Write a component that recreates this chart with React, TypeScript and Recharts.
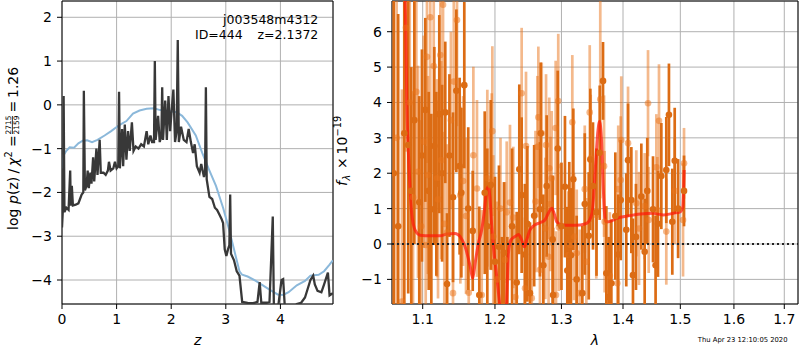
import React from 'react';
import {
  ComposedChart,
  Line,
  Scatter,
  ErrorBar,
  XAxis,
  YAxis,
  CartesianGrid,
  ReferenceLine,
  ReferenceArea,
} from 'recharts';

const FONT = '"DejaVu Sans", "Liberation Sans", sans-serif';

// ---- left panel: log p(z) ----
const zTicks = [0, 1, 2, 3, 4];
const pzTicks = [-4, -3, -2, -1, 0, 1, 2];

const zGrid = [
  0.0, 0.02, 0.03, 0.045, 0.08, 0.12, 0.15, 0.16, 0.18, 0.2,
  0.25, 0.3, 0.33, 0.36, 0.39, 0.4, 0.42, 0.45, 0.47, 0.49,
  0.52, 0.54, 0.57, 0.59, 0.63, 0.65, 0.69, 0.71, 0.76, 0.8,
  0.84, 0.86, 0.89, 0.94, 0.97, 1.0, 1.03, 1.045, 1.06, 1.1,
  1.12, 1.15, 1.18, 1.21, 1.24, 1.28, 1.31, 1.35, 1.4, 1.45,
  1.5, 1.55, 1.58, 1.62, 1.65, 1.685, 1.7, 1.715, 1.76, 1.79,
  1.82, 1.835, 1.85, 1.89, 1.92, 1.95, 1.98, 2.01, 2.04, 2.07,
  2.1, 2.12, 2.14, 2.18, 2.23, 2.28, 2.32, 2.36, 2.4, 2.43,
  2.47, 2.52, 2.55, 2.6, 2.62, 2.635, 2.65, 2.7, 2.75, 2.8,
  2.84, 2.88, 2.92, 2.95, 2.98, 3.01, 3.04, 3.065, 3.08, 3.095,
  3.15, 3.2, 3.25, 3.3, 3.4, 3.5, 3.58, 3.62, 3.65, 3.75,
  3.8, 3.83, 3.86, 3.88, 3.95, 4.02, 4.05, 4.08, 4.2, 4.3,
  4.38, 4.45, 4.5, 4.55, 4.6, 4.63, 4.68, 4.75, 4.8, 4.87,
  4.9, 4.96,
];
const logPz = [
  -2.8, -2.3, 0.2, -2.45, -2.35, -2.4, -1.5, -2.3, -1.85, -2.3,
  -2.28, -2.25, -2.15, -2.05, -2.0, 0.32, -1.95, -1.85, -1.5, -1.9,
  -1.55, -1.8, -1.2, -1.75, -1.0, -1.6, -0.8, -1.55, -1.55, -1.6,
  -1.5, -1.3, -1.5, -1.45, -1.3, -1.45, -1.4, 0.3, -1.45, -0.55,
  -1.4, -0.45, -1.25, -0.6, -1.05, -0.4, -1.05, -0.95, -1.0, -0.9,
  -0.95, -0.6, -0.9, -0.7, -0.85, -0.85, 1.0, -0.8, -0.25, -0.85,
  -0.7, 0.4, -0.8, 0.1, -0.8, 0.2, -0.6, -0.1, 0.35, -0.85,
  -0.6, 1.48, -0.85, -0.5, -0.8, -0.85, -0.55, -0.85, -1.1, -0.9,
  -1.4, -1.55, -1.35, -1.65, -1.5, 0.4, -1.7, -2.1, -2.15, -2.35,
  -2.4, -2.5, -2.6, -2.7, -3.3, -3.45, -3.3, -3.2, -2.05, -3.4,
  -3.55, -3.8, -3.9, -4.5, -4.52, -4.53, -4.5, -4.05, -4.52, -4.52,
  -4.5, -3.55, -2.55, -4.6, -4.7, -4.0, -3.98, -4.6, -4.7, -4.55,
  -4.52, -4.4, -4.2, -4.0, -3.9, -4.1, -4.25, -4.28, -4.1, -3.83,
  -4.35, -4.3,
];

const zSmooth = [
  0.0, 0.03, 0.08, 0.14, 0.22, 0.3, 0.38, 0.46, 0.55, 0.65,
  0.78, 0.9, 1.05, 1.18, 1.3, 1.42, 1.55, 1.68, 1.8, 1.95,
  2.1, 2.2, 2.3, 2.45, 2.57, 2.7, 2.82, 2.95, 3.05, 3.15,
  3.25, 3.3, 3.4, 3.55, 3.65, 3.8, 3.95, 4.05, 4.15, 4.3,
  4.45, 4.55, 4.7, 4.8, 4.9, 4.96,
];
const logPzSmooth = [
  -1.45, -1.15, -1.05, -0.97, -0.98, -0.88, -0.82, -0.81, -0.85, -0.8,
  -0.7, -0.6, -0.46, -0.37, -0.2, -0.13, -0.09, -0.08, -0.12, -0.14,
  -0.17, -0.25, -0.4, -0.7, -1.1, -1.5, -1.85, -2.35, -2.8, -3.3,
  -3.8, -3.88, -3.92, -4.02, -4.1, -4.22, -4.33, -4.34, -4.28, -4.12,
  -4.02, -3.9, -3.88, -3.8, -3.65, -3.55,
];

// ---- right panel: spectrum ----
const lamTicks = [1.1, 1.2, 1.3, 1.4, 1.5, 1.6, 1.7];
const fluxTicks = [-1, 0, 1, 2, 3, 4, 5, 6];

const darkLam = [
  1.0623, 1.068, 1.0759, 1.081, 1.085, 1.089, 1.0955, 1.099, 1.1035, 1.108,
  1.1115, 1.1155, 1.1182, 1.1222, 1.126, 1.1303, 1.1327, 1.136, 1.1409, 1.1455,
  1.15, 1.1524, 1.1565, 1.162, 1.1683, 1.1776, 1.1853, 1.189, 1.1939, 1.2,
  1.2058, 1.21, 1.2131, 1.218, 1.225, 1.2318, 1.2357, 1.2392, 1.244, 1.2477,
  1.2517, 1.258, 1.2668, 1.2679, 1.272, 1.2771, 1.2863, 1.287, 1.2942, 1.3,
  1.3055, 1.3092, 1.3123, 1.315, 1.3187, 1.324, 1.3331, 1.337, 1.3434, 1.346,
  1.3503, 1.356, 1.3613, 1.3667, 1.3722, 1.376, 1.3805, 1.3871, 1.392, 1.3961,
  1.4055, 1.4085, 1.4141, 1.4169, 1.422, 1.4312, 1.437, 1.4415, 1.4515, 1.456,
  1.4602, 1.4661, 1.4749, 1.4796, 1.4856, 1.4899, 1.496, 1.5067,
];
const darkFlux = [
  2.0, 0.5, 3.13, 2.8, 1.5, 3.5, 1.18, 2.5, 3.79, 1.5,
  0.98, 2.77, 1.7, 3.67, 2.0, 3.72, -1.13, 2.5, 1.32, 4.33,
  2.2, 1.45, 4.49, 1.0, 0.37, -1.44, 1.45, 0.5, 1.67, -0.5,
  -0.08, -2.0, -0.25, -1.8, 0.5, -1.09, 2.11, 1.38, -0.3, 0.57,
  -1.39, 0.8, 0.98, 3.13, -0.6, 1.64, 0.13, -1.44, 2.7, 0.5,
  1.62, -0.75, 0.32, -0.32, 1.83, -1.0, -1.39, 1.13, 0.23, 2.39,
  1.64, 0.9, 2.58, 4.61, -0.83, -1.5, -1.11, 0.79, -0.3, 1.24,
  0.4, 2.37, 1.24, -0.88, 0.2, 1.34, -0.22, 1.5, 0.98, -0.6,
  0.57, 1.92, 2.09, 3.65, 0.63, 2.35, 1.0, 1.5,
];
const darkErr = [
  7.0, 6.0, 5.5, 4.2, 3.5, 3.5, 3.0, 3.0, 2.6, 2.8,
  2.7, 2.8, 2.6, 2.8, 2.5, 2.0, 2.0, 2.3, 2.4, 2.3,
  2.5, 2.4, 2.35, 2.3, 1.7, 2.5, 2.3, 2.2, 2.4, 2.4,
  2.3, 2.2, 2.0, 2.0, 2.2, 2.0, 2.4, 2.2, 2.0, 2.2,
  2.0, 2.0, 1.9, 2.0, 2.0, 2.0, 1.8, 1.9, 2.2, 1.8,
  2.0, 1.8, 2.0, 1.9, 2.0, 1.8, 1.9, 2.0, 1.8, 2.0,
  1.8, 1.8, 1.9, 1.1, 1.9, 1.7, 1.8, 1.8, 1.7, 1.7,
  1.6, 1.6, 1.5, 1.6, 1.5, 1.5, 1.5, 1.5, 1.5, 1.4,
  1.5, 1.5, 1.5, 1.45, 1.5, 1.5, 1.4, 1.0,
];

const lightLam = [
  1.066, 1.0729, 1.0781, 1.083, 1.0873, 1.0916, 1.0938, 1.098, 1.1013, 1.104,
  1.1057, 1.107, 1.1101, 1.1147, 1.1192, 1.1205, 1.1236, 1.1248, 1.1273, 1.129,
  1.1327, 1.138, 1.1409, 1.142, 1.1464, 1.151, 1.1548, 1.1589, 1.1627, 1.1692,
  1.1743, 1.181, 1.189, 1.1953, 1.1962, 1.1976, 1.203, 1.208, 1.2146, 1.2171,
  1.2219, 1.2268, 1.23, 1.2392, 1.2442, 1.2457, 1.2543, 1.26, 1.2628, 1.2643,
  1.2668, 1.2695, 1.275, 1.2761, 1.28, 1.2811, 1.283, 1.2848, 1.291, 1.2915,
  1.295, 1.296, 1.3108, 1.3135, 1.3171, 1.3198, 1.3241, 1.3289, 1.337, 1.3395,
  1.345, 1.3466, 1.3557, 1.3622, 1.3684, 1.3694, 1.378, 1.3904, 1.392, 1.3961,
  1.3971, 1.4085, 1.4226, 1.4272, 1.437, 1.4428, 1.444, 1.4573, 1.4591, 1.462,
  1.4749, 1.49, 1.5049, 1.5067,
];
const lightFlux = [
  3.0, -1.63, 6.11, 4.0, 1.32, 4.3, 2.04, 0.5, 2.89, -0.03,
  5.29, 1.95, 6.41, 5.03, 1.86, 1.26, 5.34, 2.37, 6.76, 0.57,
  0.32, 3.5, -1.39, 4.59, 6.33, 1.38, 1.78, 0.79, -1.38, 2.51,
  1.57, -1.44, 1.86, 1.76, 3.19, 0.21, -1.0, 1.0, -0.45, 0.9,
  1.17, 0.75, -1.5, 4.26, -1.25, 2.77, -1.53, 1.2, 2.75, 3.58,
  -0.73, 3.13, 0.44, 2.8, -0.36, 2.14, 1.13, 1.86, 3.28, -1.44,
  4.04, 0.47, -0.31, -0.03, 3.44, 0.21, -0.26, -1.39, 1.55, -0.5,
  3.72, 2.42, 0.82, 4.09, 2.2, 0.63, -0.9, -1.11, 1.55, 1.81,
  2.94, 2.85, 1.15, 0.44, 1.07, 3.98, 0.68, 2.17, 0.96, 3.48,
  0.35, 1.5, 0.68, 2.28,
];
const lightErr = [
  6.0, 6.0, 3.5, 4.0, 3.0, 3.3, 3.0, 3.0, 3.0, 2.8,
  3.0, 2.8, 3.3, 3.0, 2.8, 2.8, 3.0, 2.8, 3.0, 2.6,
  2.5, 2.5, 2.6, 2.5, 3.0, 2.5, 2.4, 2.2, 2.3, 2.5,
  2.5, 2.4, 2.5, 2.5, 2.4, 2.3, 2.2, 2.0, 2.2, 2.0,
  2.2, 2.0, 2.0, 1.85, 2.0, 2.1, 2.0, 2.0, 2.0, 2.0,
  2.0, 2.0, 2.0, 2.0, 2.0, 2.0, 1.9, 1.9, 1.9, 1.8,
  1.9, 1.8, 1.8, 1.8, 1.9, 1.8, 1.8, 1.8, 1.8, 1.8,
  1.9, 1.8, 1.8, 2.8, 2.0, 2.0, 1.8, 1.8, 1.8, 1.8,
  1.8, 1.6, 1.5, 1.6, 1.5, 1.5, 1.5, 1.5, 1.5, 1.6,
  1.5, 1.5, 1.6, 1.0,
];

const modelLam = [
  1.07, 1.074, 1.0778, 1.0791, 1.0811, 1.0833, 1.0855, 1.0899, 1.0965, 1.1098,
  1.1232, 1.1324, 1.1437, 1.1507, 1.1577, 1.1648, 1.1683, 1.1716, 1.1763, 1.181,
  1.1844, 1.1882, 1.1906, 1.193, 1.1954, 1.1987, 1.2026, 1.2073, 1.2147, 1.2171,
  1.2196, 1.2231, 1.2294, 1.2345, 1.2393, 1.2432, 1.2467, 1.2517, 1.2593, 1.2668,
  1.2744, 1.2796, 1.2849, 1.2885, 1.2926, 1.3006, 1.3137, 1.3298, 1.3406, 1.3488,
  1.3543, 1.358, 1.361, 1.3642, 1.367, 1.3708, 1.3763, 1.3903, 1.4072, 1.4298,
  1.4527, 1.47, 1.4877, 1.4997, 1.5045, 1.5069,
];
const modelFlux = [
  12, 9.0, 6.05, 4.07, 2.66, 1.62, 0.87, 0.4, 0.25, 0.23,
  0.23, 0.28, 0.3, 0.21, -0.08, -0.64, -0.97, -0.55, 0.02, 0.4,
  0.87, 1.53, 1.62, 1.24, 0.49, -0.26, -0.92, -1.77, -2.5, -1.58,
  -0.26, 0.11, 0.21, 0.27, 0.11, -0.08, 0.11, 0.4, 0.54, 0.6,
  0.68, 0.87, 1.01, 0.87, 0.63, 0.54, 0.53, 0.54, 0.59, 0.87,
  2.18, 3.13, 3.46, 2.94, 1.62, 0.63, 0.63, 0.73, 0.79, 0.85,
  0.87, 0.82, 0.87, 0.91, 1.05, 2.09,
];

const Z_DOMAIN: [number, number] = [0, 4.963];
const PZ_DOMAIN: [number, number] = [-4.548, 2.372];
const LAM_DOMAIN: [number, number] = [1.0601, 1.7283];
const FLUX_DOMAIN: [number, number] = [-1.696, 6.868];

const pzData = zGrid.map((x, i) => ({ x, y: logPz[i] }));
const pzSmoothData = zSmooth.map((x, i) => ({ x, y: logPzSmooth[i] }));

// scatter + errorbar are not clipped by recharts, so the bars are cut to the axes range here
const inRange = (v: number) => v >= FLUX_DOMAIN[0] && v <= FLUX_DOMAIN[1];
const clipErr = (y: number, e: number): [number, number] => [
  Math.min(e, y - FLUX_DOMAIN[0]),
  Math.min(e, FLUX_DOMAIN[1] - y),
];
const spectrum = (lam: number[], flux: number[], err: number[]) =>
  lam
    .map((x, i) => ({ x, y: flux[i], e: clipErr(flux[i], err[i]) }))
    .filter((d, i) => flux[i] + err[i] > FLUX_DOMAIN[0] && flux[i] - err[i] < FLUX_DOMAIN[1]);

const darkData = spectrum(darkLam, darkFlux, darkErr);
const lightData = spectrum(lightLam, lightFlux, lightErr);
const modelData = modelLam.map((x, i) => ({ x, y: modelFlux[i] }));

const DARK = '#dc6c14';
const LIGHT = 'rgba(234,116,26,0.5)';

const minus = (s: string) => s.replace('-', '\u2212');
const tickStyle = { fill: '#000', fontSize: 14, fontFamily: FONT };

const darkDot = (p: any) =>
  inRange(p.payload.y) ? <circle cx={p.cx} cy={p.cy} r={3.3} fill={DARK} /> : <g />;
const lightDot = (p: any) =>
  inRange(p.payload.y) ? <circle cx={p.cx} cy={p.cy} r={3.3} fill={LIGHT} /> : <g />;

function PzPanel() {
  return (
    <ComposedChart width={340} height={350} margin={{ top: 1, right: 7, bottom: 0, left: 0 }}>
      <CartesianGrid stroke="#b0b0b0" strokeWidth={1} />
      <XAxis
        type="number"
        dataKey="x"
        domain={Z_DOMAIN}
        ticks={zTicks}
        interval={0}
        allowDataOverflow
        height={46}
        axisLine={false}
        tickLine={{ stroke: '#000' }}
        tickSize={5}
        tickMargin={5}
        tick={tickStyle}
      />
      <YAxis
        type="number"
        dataKey="y"
        domain={PZ_DOMAIN}
        ticks={pzTicks}
        interval={0}
        allowDataOverflow
        width={62}
        axisLine={false}
        tickLine={{ stroke: '#000' }}
        tickSize={5}
        tickMargin={5}
        tick={tickStyle}
        tickFormatter={(v: number) => minus(String(v))}
      />
      <Line data={pzSmoothData} dataKey="y" type="linear" stroke="#8bb8da" strokeWidth={2} dot={false} isAnimationActive={false} />
      <Line data={pzData} dataKey="y" type="linear" stroke="#383838" strokeWidth={2.3} dot={false} isAnimationActive={false} />
      <ReferenceArea
        x1={Z_DOMAIN[0]}
        x2={Z_DOMAIN[1]}
        y1={PZ_DOMAIN[0]}
        y2={PZ_DOMAIN[1]}
        fill="none"
        fillOpacity={0}
        stroke="#000"
        strokeWidth={1}
        ifOverflow="visible"
      />
    </ComposedChart>
  );
}

function SpecPanel() {
  return (
    <ComposedChart width={460} height={350} margin={{ top: 1, right: 2, bottom: 0, left: 0 }}>
      <CartesianGrid stroke="#b0b0b0" strokeWidth={1} />
      <XAxis
        type="number"
        dataKey="x"
        scale="log"
        domain={LAM_DOMAIN}
        ticks={lamTicks}
        interval={0}
        allowDataOverflow
        height={46}
        axisLine={false}
        tickLine={{ stroke: '#000' }}
        tickSize={5}
        tickMargin={5}
        tick={tickStyle}
        tickFormatter={(v: number) => v.toFixed(1)}
      />
      <YAxis
        type="number"
        dataKey="y"
        domain={FLUX_DOMAIN}
        ticks={fluxTicks}
        interval={0}
        allowDataOverflow
        width={52}
        axisLine={false}
        tickLine={{ stroke: '#000' }}
        tickSize={5}
        tickMargin={5}
        tick={tickStyle}
        tickFormatter={(v: number) => minus(String(v))}
      />
      <Scatter data={lightData} dataKey="y" shape={lightDot} isAnimationActive={false}>
        <ErrorBar dataKey="e" direction="y" width={0} stroke={LIGHT} strokeWidth={2.7} isAnimationActive={false} />
      </Scatter>
      <Scatter data={darkData} dataKey="y" shape={darkDot} isAnimationActive={false}>
        <ErrorBar dataKey="e" direction="y" width={0} stroke={DARK} strokeWidth={2.7} isAnimationActive={false} />
      </Scatter>
      <Line
        data={modelData}
        dataKey="y"
        type="monotone"
        stroke="rgba(255,25,10,0.72)"
        strokeWidth={3}
        dot={false}
        isAnimationActive={false}
      />
      <ReferenceLine y={0} stroke="#222" strokeWidth={2} strokeDasharray="2 3" />
      <ReferenceArea
        x1={LAM_DOMAIN[0]}
        x2={LAM_DOMAIN[1]}
        y1={FLUX_DOMAIN[0]}
        y2={FLUX_DOMAIN[1]}
        fill="none"
        fillOpacity={0}
        stroke="#000"
        strokeWidth={1}
        ifOverflow="visible"
      />
    </ComposedChart>
  );
}

function Labels() {
  return (
    <svg
      width={800}
      height={350}
      style={{ position: 'absolute', left: 0, top: 0, pointerEvents: 'none' }}
      fontFamily={FONT}
      fill="#000"
    >
      {/* left y label */}
      <g transform="translate(13,230) rotate(-90)" fontSize={14}>
        <text x={0} y={5}>log</text>
        <text x={26} y={5} fontStyle="italic">p</text>
        <text x={35} y={5}>(z)</text>
        <text x={56.5} y={5}>/</text>
        <text x={64} y={5} fontStyle="italic">χ</text>
        <text x={72.5} y={-1} fontSize={9.8}>2</text>
        <text x={83} y={5}>=</text>
        <text x={105} y={-1.6} fontSize={7.5} textAnchor="middle">2715</text>
        <line x1={96} x2={114} y1={-0.6} y2={-0.6} stroke="#000" strokeWidth={0.8} />
        <text x={105} y={5.6} fontSize={7.5} textAnchor="middle">2159</text>
        <text x={117.5} y={5}>=</text>
        <text x={132} y={5}>1.26</text>
      </g>
      {/* right y label */}
      <g transform="translate(347,186) rotate(-90)" fontSize={14}>
        <text x={0} y={0} fontStyle="italic">f</text>
        <text x={5.5} y={3} fontSize={9.8} fontStyle="italic">λ</text>
        <text x={17} y={0}>×</text>
        <text x={31.5} y={0}>10</text>
        <text x={49.5} y={-6.5} fontSize={9.8}>{'\u221219'}</text>
      </g>
      {/* x labels */}
      <text x={197.8} y={345} fontSize={14} fontStyle="italic" textAnchor="middle">z</text>
      <text x={594.9} y={345} fontSize={14} fontStyle="italic" textAnchor="middle">λ</text>
      {/* annotation */}
      <text x={318.3} y={24} fontSize={12.5} textAnchor="end">j003548m4312</text>
      <text x={195} y={39.3} fontSize={12.5}>ID=444</text>
      <text x={318.3} y={39.3} fontSize={12.5} textAnchor="end">z=2.1372</text>
      {/* timestamp */}
      <text x={787.5} y={341.5} fontSize={6.8} textAnchor="end">Thu Apr 23 12:10:05 2020</text>
    </svg>
  );
}

export default function App() {
  return (
    <div style={{ position: 'absolute', left: 0, top: 0, width: 800, height: 350, background: '#fff', fontFamily: FONT }}>
      <div style={{ position: 'absolute', left: 0, top: 0 }}>
        <PzPanel />
      </div>
      <div style={{ position: 'absolute', left: 340, top: 0 }}>
        <SpecPanel />
      </div>
      <Labels />
    </div>
  );
}
